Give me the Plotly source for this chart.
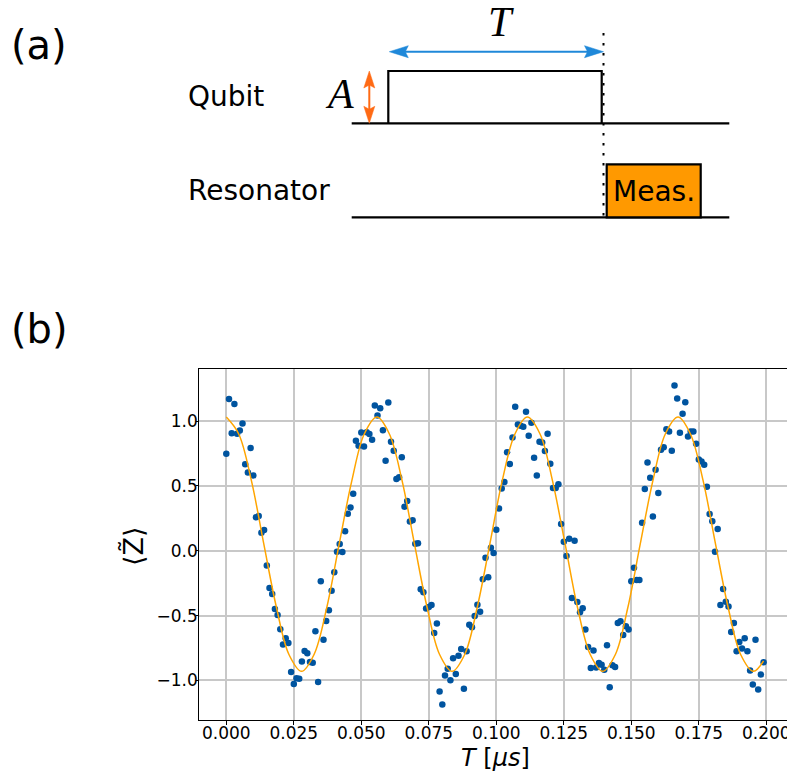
import plotly.graph_objects as go

# ---------------- data ----------------
# measured <Z~> at T = 0.000, 0.001, ..., 0.199 us
z_meas = [
    0.747, 1.170, 0.906, 1.132, 0.901, 0.927, 0.981, 0.667, 0.603, 0.791,
    0.580, 0.257, 0.267, 0.139, 0.159, -0.114, -0.288, -0.334, -0.449, -0.496,
    -0.606, -0.724, -0.675, -0.711, -0.935, -1.027, -0.983, -0.988, -0.855, -0.773,
    -0.791, -0.858, -0.863, -0.621, -1.012, -0.236, -0.686, -0.542, -0.460, -0.308,
    -0.167, -0.008, 0.051, -0.010, 0.149, 0.285, 0.334, 0.439, 0.847, 0.809,
    0.911, 0.804, 0.914, 0.899, 0.855, 1.119, 1.042, 1.099, 0.929, 0.693,
    1.143, 0.840, 0.770, 0.552, 0.567, 0.721, 0.339, 0.383, 0.226, 0.234,
    0.054, 0.057, -0.298, -0.321, -0.445, -0.434, -0.419, -0.634, -0.562, -1.086,
    -1.186, -0.963, -0.911, -0.999, -0.829, -0.950, -0.809, -0.757, -1.065, -0.775,
    -0.570, -0.591, -0.503, -0.416, -0.470, -0.221, -0.054, -0.205, 0.023, -0.018,
    0.162, 0.326, 0.480, 0.529, 0.760, 0.668, 0.873, 1.109, 0.973, 0.963,
    0.955, 1.071, 0.886, 0.986, 0.716, 0.580, 0.840, 0.834, 0.768, 0.901,
    0.670, 0.483, 0.483, 0.513, 0.205, 0.069, -0.041, 0.092, -0.365, 0.077,
    -0.395, -0.475, -0.444, -0.608, -0.742, -0.904, -0.770, -0.900, -0.865, -0.880,
    -0.917, -0.729, -1.053, -0.883, -0.897, -0.557, -0.544, -0.650, -0.583, -0.608,
    -0.236, -0.131, -0.226, -0.226, 0.216, 0.475, 0.680, 0.562, 0.264, 0.624,
    0.444, 0.778, 0.798, 0.937, 0.919, 0.770, 1.273, 1.173, 0.909, 1.055,
    1.145, 0.881, 0.919, 0.919, 0.824, 0.703, 0.688, 0.662, 0.493, 0.282,
    0.228, -0.008, 0.167, -0.418, -0.295, -0.393, -0.431, -0.626, -0.557, -0.775,
    -0.703, -0.755, -0.675, -0.775, -0.924, -1.032, -0.686, -1.071, -0.955, -0.860,
]
t_step_us = 0.001
t_meas = [round(t_step_us * i, 3) for i in range(len(z_meas))]

# fitted curve, read at ~1/12-period spacing
fit_t = [0.0000, 0.0046, 0.0093, 0.0139, 0.0186, 0.0232, 0.0279, 0.0325, 0.0372, 0.0418,
         0.0465, 0.0511, 0.0558, 0.0604, 0.0651, 0.0697, 0.0744, 0.0790, 0.0836, 0.0883,
         0.0929, 0.0976, 0.1022, 0.1069, 0.1115, 0.1162, 0.1208, 0.1255, 0.1301, 0.1348,
         0.1394, 0.1441, 0.1487, 0.1533, 0.1580, 0.1626, 0.1673, 0.1719, 0.1766, 0.1812,
         0.1859, 0.1905, 0.1952, 0.1990]
fit_z = [1.03, 0.90, 0.54, 0.05, -0.44, -0.80, -0.93, -0.80, -0.44, 0.05,
         0.54, 0.90, 1.03, 0.90, 0.54, 0.05, -0.44, -0.80, -0.93, -0.80,
         -0.44, 0.05, 0.54, 0.90, 1.03, 0.90, 0.54, 0.05, -0.44, -0.80,
         -0.93, -0.80, -0.44, 0.05, 0.54, 0.90, 1.03, 0.90, 0.54, 0.05,
         -0.44, -0.80, -0.93, -0.85]

x_ticks = [0.0, 0.025, 0.05, 0.075, 0.1, 0.125, 0.15, 0.175, 0.2]
y_ticks = [-1.0, -0.5, 0.0, 0.5, 1.0]

# ---------------- figure ----------------
W, H = 787, 771
FONT = "DejaVu Sans"


def X(p):
    return p / W


def Y(p):
    return 1 - p / H


fig = go.Figure()
fig.add_trace(go.Scatter(
    x=t_meas, y=z_meas, mode="markers",
    marker=dict(color="#00549f", size=6.5, line=dict(width=0)),
    showlegend=False, hoverinfo="skip"))
fig.add_trace(go.Scatter(
    x=fit_t, y=fit_z, mode="lines",
    line=dict(color="#ffa500", width=1.5, shape="spline", smoothing=1.0),
    showlegend=False, hoverinfo="skip"))

# plot-area geometry in pixels
ax_left, ax_right, ax_top, ax_bot = 199.3, 787.0, 369.3, 720.3
x0_px, px_per_us = 226.3, 2700.0
y0_px, px_per_unit = 550.7, 129.7

xr = [(ax_left - x0_px) / px_per_us, (ax_right - x0_px) / px_per_us]
yr = [(y0_px - ax_bot) / px_per_unit, (y0_px - ax_top) / px_per_unit]

fig.update_layout(
    width=W, height=H,
    margin=dict(l=0, r=0, t=0, b=0),
    paper_bgcolor="white", plot_bgcolor="white",
    font=dict(family=FONT, color="black"),
    xaxis=dict(
        domain=[X(ax_left), X(ax_right)], range=xr,
        tickvals=x_ticks, tickformat=".3f",
        tickfont=dict(size=17, family=FONT, color="black"),
        ticks="outside", ticklen=4, tickwidth=1.2, tickcolor="black",
        ticklabelstandoff=-7, ticklabeloverflow="allow",
        showline=True, linecolor="black", linewidth=1.3, mirror=True,
        showgrid=True, gridcolor="#c8c8c8", gridwidth=1.5, zeroline=False,
        automargin=False, fixedrange=True),
    yaxis=dict(
        domain=[Y(ax_bot), Y(ax_top)], range=yr,
        tickvals=y_ticks, tickformat=".1f",
        tickfont=dict(size=17, family=FONT, color="black"),
        ticks="outside", ticklen=2, tickwidth=1.2, tickcolor="black",
        ticklabelstandoff=-5,
        showline=True, linecolor="black", linewidth=1.3, mirror=False,
        showgrid=True, gridcolor="#c8c8c8", gridwidth=1.5, zeroline=False,
        automargin=False, fixedrange=True),
)

shapes = []
annotations = []


def seg(x0, y0, x1, y1, color="black", width=2.2, dash="solid"):
    shapes.append(dict(type="line", xref="paper", yref="paper",
                       x0=X(x0), y0=Y(y0), x1=X(x1), y1=Y(y1),
                       line=dict(color=color, width=width, dash=dash)))


def head(tx, ty, dx, dy, length, half, notch, color):
    # tip at (tx,ty) pointing along (dx,dy)
    px_, py_ = -dy, dx
    bx, by = tx - dx * length, ty - dy * length
    nx, ny = tx - dx * (length - notch), ty - dy * (length - notch)
    pts = [(tx, ty), (bx + px_ * half, by + py_ * half), (nx, ny),
           (bx - px_ * half, by - py_ * half)]
    path = "M " + " L ".join(f"{X(a):.5f},{Y(b):.5f}" for a, b in pts) + " Z"
    shapes.append(dict(type="path", xref="paper", yref="paper", path=path,
                       fillcolor=color, line=dict(color=color, width=0.5)))


def text(x, y, s, size, xanchor="center", yanchor="middle", family=FONT, angle=0):
    annotations.append(dict(xref="paper", yref="paper", x=X(x), y=Y(y), text=s,
                            showarrow=False, xanchor=xanchor, yanchor=yanchor,
                            textangle=angle,
                            font=dict(size=size, family=family, color="black")))


# ---- panel (a): pulse schematic ----
BLUE, ORANGE, MEAS = "#1f88d9", "#ff6a14", "#ff9900"
q_base, r_base = 123.3, 217.3
line_x0, line_x1 = 351.7, 729.3
pulse_x0, pulse_x1, pulse_top = 388.3, 601.7, 71.0
meas_x0, meas_x1, meas_top = 606.7, 700.7, 164.3
dot_x = 603.5

# baselines
seg(line_x0, q_base, line_x1, q_base)
seg(line_x0, r_base, line_x1, r_base)
# qubit pulse (open rectangle)
shapes.append(dict(type="path", xref="paper", yref="paper",
                   path=f"M {X(pulse_x0)},{Y(q_base)} L {X(pulse_x0)},{Y(pulse_top)} "
                        f"L {X(pulse_x1)},{Y(pulse_top)} L {X(pulse_x1)},{Y(q_base)}",
                   line=dict(color="black", width=2.2)))
# measurement box
shapes.append(dict(type="rect", xref="paper", yref="paper",
                   x0=X(meas_x0), x1=X(meas_x1), y0=Y(r_base), y1=Y(meas_top),
                   fillcolor=MEAS, line=dict(color="black", width=2.2)))
# dotted vertical line
seg(dot_x, 33, dot_x, r_base, width=2, dash="2.5px,7.5px")
# blue T arrow
ay = 51.7
seg(pulse_x0 + 8, ay, dot_x - 8, ay, color=BLUE, width=2)
head(pulse_x0 + 1, ay, -1, 0, 19, 6, 3, BLUE)
head(dot_x, ay, 1, 0, 19, 6, 3, BLUE)
# orange A arrow
axp = 369.3
seg(axp, pulse_top + 8, axp, q_base - 8, color=ORANGE, width=2)
head(axp, pulse_top, 0, -1, 17, 5.5, 3, ORANGE)
head(axp, q_base, 0, 1, 17, 5.5, 3, ORANGE)

text(9, 45, "(a)", 40, xanchor="left")
text(9, 329, "(b)", 40, xanchor="left")
text(186, 96, "Qubit", 28, xanchor="left")
text(186, 190, "Resonator", 28, xanchor="left")
text(654, 191, "Meas.", 28)
text(501, 22, "<i>T</i>", 42, family="Liberation Serif")
text(339, 94, "<i>A</i>", 42, family="Liberation Serif")

# axis titles
text(495, 758, "<i>T</i> [<i>μs</i>]", 24)
text(133, 546, "⟨Z̃⟩", 27, angle=-90)

fig.update_layout(shapes=shapes, annotations=annotations)
fig.write_html("out.html")
